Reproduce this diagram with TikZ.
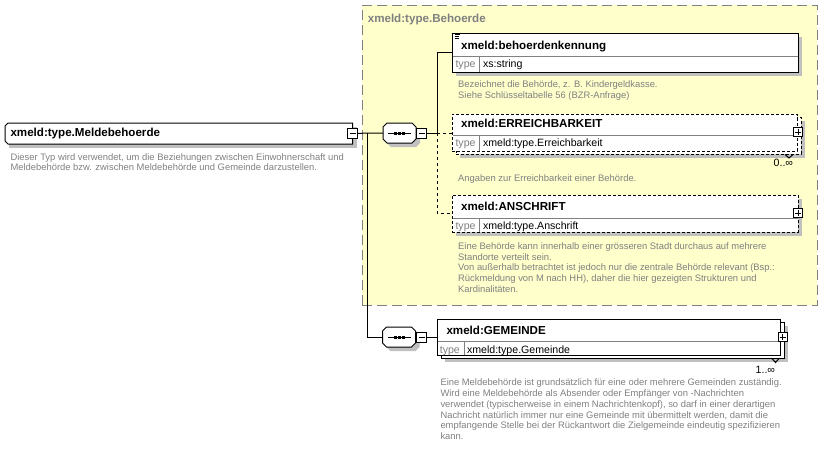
\documentclass[tikz,border=0pt]{standalone}
\usepackage{fontspec}
\setmainfont{Liberation Sans}
\definecolor{ybg}{RGB}{255,255,204}
\definecolor{dgray}{RGB}{128,128,128}
\definecolor{shad}{RGB}{192,192,192}
\newcommand\dlines[1]{\parbox[t]{420pt}{\fontsize{9.4}{10.8}\selectfont\raggedright #1}}
\newcommand\seqsym[1]{%
  \begin{scope}[shift={(#1.center)}]
    \begin{scope}[shift={(4,4)}]
      \fill[shad] (-12.5,-10) -- (12.5,-10) -- (16.5,-6) -- (16.5,6) -- (12.5,10) -- (-12.5,10) -- (-16.5,6) -- (-16.5,-6) -- cycle;
    \end{scope}
    \draw[fill=white] (-12.5,-10) -- (12.5,-10) -- (16.5,-6) -- (16.5,6) -- (12.5,10) -- (-12.5,10) -- (-16.5,6) -- (-16.5,-6) -- cycle;
    \draw (-11.5,0) -- (11.5,0);
    \fill (-5.5,-1.5) rectangle (-2.5,1.5);
    \fill (-1.5,-1.5) rectangle (1.5,1.5);
    \fill (2.5,-1.5) rectangle (5.5,1.5);
  \end{scope}}
\newcommand\minussign[1]{\draw ([xshift=-3pt]#1.center) -- ([xshift=3pt]#1.center);}
\newcommand\plussign[1]{\draw ([xshift=-3pt]#1.center) -- ([xshift=3pt]#1.center) ([yshift=-3pt]#1.center) -- ([yshift=3pt]#1.center);}
\begin{document}
\begin{tikzpicture}[x=1pt,y=-1pt,line width=1pt,
  ttl/.style={font=\fontsize{11.6}{13}\selectfont\bfseries, anchor=base west, inner sep=0},
  tval/.style={font=\fontsize{10.6}{12}\selectfont, anchor=base west, inner sep=0},
  tlab/.style={tval, text=dgray},
  dsc/.style={anchor=base west, inner sep=0, text=dgray},
  elbox/.style={draw, fill=white, rectangle, inner sep=0, outer sep=0, anchor=north west},
  optbox/.style={elbox, dash pattern=on 3pt off 2pt},
  sepl/.style={draw=dgray},
  pm/.style={draw, fill=white, rectangle, minimum size=10pt, inner sep=0, outer sep=0},
  optconn/.style={dash pattern=on 3pt off 3pt},
  anchorbox/.style={inner sep=0, outer sep=0, rectangle},
]
\useasboundingbox (0,0) rectangle (836,459);

% group background
\node[draw=dgray, fill=ybg, dash pattern=on 10pt off 5pt, rectangle, inner sep=0, outer sep=0,
      anchor=north west, minimum width=455pt, minimum height=300pt] (grp) at (362,5) {};
\node[ttl, text=dgray] (grpt) at (367.3,22.7) {xmeld:type.Behoerde};

% main element
\fill[shad] (9,127) rectangle (356.5,148);
\node[anchorbox, minimum width=347.5pt, minimum height=21pt, anchor=north west] (main) at (5,123) {};
\draw[fill=white] (8,123) -- (352.5,123) -- (352.5,144) -- (8,144) -- (5,141) -- (5,126) -- cycle;
\node[ttl] (maint) at (10,136.7) {xmeld:type.Meldebehoerde};
\node[pm] (mm) at (352.5,133.3) {};
\minussign{mm}
\node[dsc] (maind) at (10,160) {\dlines{Dieser Typ wird verwendet, um die Beziehungen zwischen Einwohnerschaft und\\Meldebehörde bzw. zwischen Meldebehörde und Gemeinde darzustellen.}};

% sequence 1
\node[anchorbox, minimum width=33pt, minimum height=20pt] (s1) at (399.5,133) {};
\seqsym{s1}
\node[pm] (m1) at (421.5,133) {};
\minussign{m1}

% sequence 2
\node[anchorbox, minimum width=33pt, minimum height=20pt] (s2) at (399,337) {};
\seqsym{s2}
\node[pm] (m2) at (421.5,337) {};
\minussign{m2}

% box 1: behoerdenkennung
\fill[shad] (456,37) rectangle (802,76);
\node[elbox, minimum width=346pt, minimum height=39pt] (b1) at (452,33) {};
\draw[sepl] (452.5,56) -- (797.5,56);
\draw[sepl] (479,56) -- (479,71.5);
\draw[line width=0.8pt] (454.5,34.7) -- (460,34.7) (454.5,36.6) -- (459,36.6) (454.5,38.5) -- (459,38.5);
\node[ttl] (b1t) at (460.7,49) {xmeld:behoerdenkennung};
\node[tlab] (b1l) at (455,67.7) {type};
\node[tval] (b1v) at (482.5,67.7) {xs:string};
\node[dsc] (b1d) at (457.7,87.3) {\dlines{Bezeichnet die Behörde, z. B. Kindergeldkasse.\\Siehe Schlüsseltabelle 56 (BZR-Anfrage)}};

% box 2: ERREICHBARKEIT (0..inf, optional)
\fill[shad] (460,121) rectangle (805,158);
\node[optbox, minimum width=345pt, minimum height=37pt] (b2back) at (456,117) {};
\node[optbox, minimum width=345pt, minimum height=37pt] (b2) at (452,114) {};
\draw[sepl] (452.5,135) -- (796.5,135);
\draw[sepl] (479,135) -- (479,150.5);
\draw (785,154.5) -- (789,158) -- (793,154.5);
\node[ttl] (b2t) at (460.7,127.7) {xmeld:ERREICHBARKEIT};
\node[tlab] (b2l) at (455,146.7) {type};
\node[tval] (b2v) at (482.5,146.7) {xmeld:type.Erreichbarkeit};
\node[pm, minimum size=9pt] (p2) at (798,132) {};
\plussign{p2}
\node[tval, anchor=base east] (b2c) at (793.5,166.5) {0..∞};
\node[dsc] (b2d) at (457.7,181) {\dlines{Angaben zur Erreichbarkeit einer Behörde.}};

% box 3: ANSCHRIFT (optional)
\fill[shad] (456,199) rectangle (802,236);
\node[optbox, minimum width=346pt, minimum height=37pt] (b3) at (452,195) {};
\draw[sepl] (452.5,218) -- (797.5,218);
\draw[sepl] (479,218) -- (479,231.5);
\node[ttl] (b3t) at (460.7,210) {xmeld:ANSCHRIFT};
\node[tlab] (b3l) at (455,229.3) {type};
\node[tval] (b3v) at (482.5,229.3) {xmeld:type.Anschrift};
\node[pm, minimum size=9pt] (p3) at (798,213) {};
\plussign{p3}
\node[dsc] (b3d) at (457.7,249.3) {\dlines{Eine Behörde kann innerhalb einer grösseren Stadt durchaus auf mehrere\\Standorte verteilt sein.\\Von außerhalb betrachtet ist jedoch nur die zentrale Behörde relevant (Bsp.:\\Rückmeldung von M nach HH), daher die hier gezeigten Strukturen und\\Kardinalitäten.}};

% box 4: GEMEINDE (1..inf)
\fill[shad] (445,326) rectangle (788,362);
\node[elbox, minimum width=343pt, minimum height=36pt] (gback) at (441,322) {};
\node[elbox, minimum width=343pt, minimum height=36pt] (g) at (437,319) {};
\draw[sepl] (437.5,341.5) -- (779.5,341.5);
\draw[sepl] (464,341.5) -- (464,354.5);
\draw (771.5,358) -- (775.5,362.5) -- (779.5,358);
\node[ttl] (gt) at (446,334) {xmeld:GEMEINDE};
\node[tlab] (gl) at (439.3,353.3) {type};
\node[tval] (gv) at (466.5,353.3) {xmeld:type.Gemeinde};
\node[pm, minimum size=9pt] (pg) at (782.5,337) {};
\plussign{pg}
\node[tval, anchor=base east] (gc) at (775.5,373.3) {1..∞};
\node[dsc] (gd) at (440,385.7) {\dlines{Eine Meldebehörde ist grundsätzlich für eine oder mehrere Gemeinden zuständig.\\Wird eine Meldebehörde als Absender oder Empfänger von -Nachrichten\\verwendet (typischerweise in einem Nachrichtenkopf), so darf in einer derartigen\\Nachricht natürlich immer nur eine Gemeinde mit übermittelt werden, damit die\\empfangende Stelle bei der Rückantwort die Zielgemeinde eindeutig spezifizieren\\kann.}};

% connectors
\coordinate (j1) at (367,133);
\coordinate (j2) at (437,133);
\draw (mm.east) -- (s1.west);
\draw (j1) |- (s2.west);
\draw (m1.east) -- (j2);
\draw (j2) |- (b1.west);
\draw[optconn] (j2) -- (j2 -| b2.west);
\draw[optconn] (j2) |- (b3.west);
\draw (m2.east) -- (g.west);
\end{tikzpicture}
\end{document}
